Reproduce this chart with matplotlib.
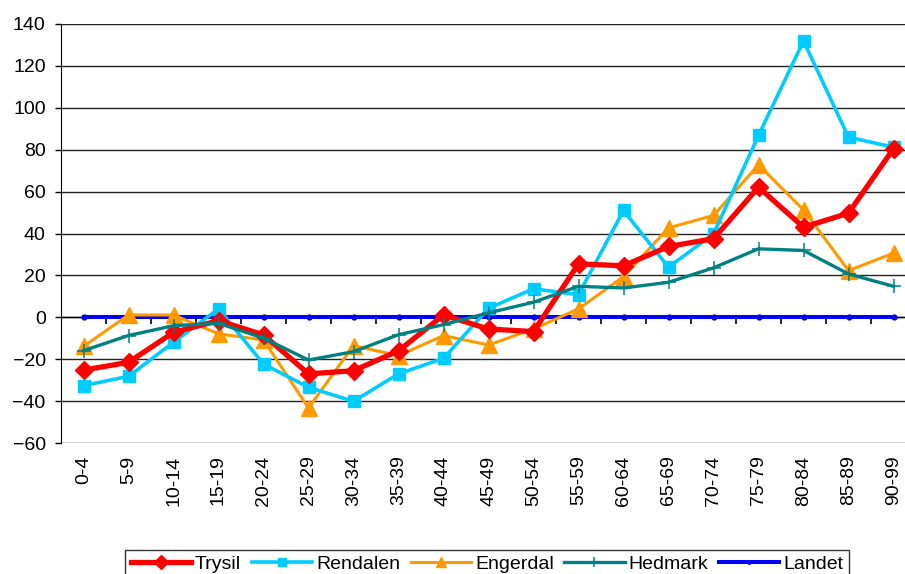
import matplotlib
matplotlib.use('Agg')
import matplotlib.pyplot as plt
from matplotlib.markers import TICKDOWN
import numpy as np

plt.rcParams['font.family'] = ['Liberation Sans', 'DejaVu Sans']

age_groups = ['0-4', '5-9', '10-14', '15-19', '20-24', '25-29', '30-34', '35-39',
              '40-44', '45-49', '50-54', '55-59', '60-64', '65-69', '70-74',
              '75-79', '80-84', '85-89', '90-99']

trysil = [-25.2, -21.5, -7.2, -1.6, -8.4, -27.0, -25.5, -16.0, 1.1, -5.6,
          -6.8, 25.5, 24.6, 33.8, 37.5, 62.1, 43.0, 49.7, 80.5]
rendalen = [-32.6, -28.2, -11.9, 4.0, -22.3, -33.4, -40.1, -27.0, -19.6, 4.3,
            13.6, 10.8, 51.0, 23.9, 39.8, 86.8, 131.9, 86.0, 81.2]
engerdal = [-13.9, 1.1, 1.1, -7.9, -10.8, -43.3, -13.5, -18.3, -8.7, -13.2,
            -5.6, 4.0, 19.4, 42.7, 48.6, 72.8, 51.3, 22.3, 30.6]
hedmark = [-15.9, -8.7, -4.0, -2.9, -9.9, -20.4, -16.4, -8.3, -3.5, 2.1,
           7.2, 14.8, 14.0, 16.7, 23.6, 32.7, 31.9, 20.7, 14.8]
landet = [0] * 19

x = np.arange(len(age_groups))

fig = plt.figure(figsize=(9.05, 5.74), dpi=100)
ax = fig.add_axes([61 / 905, 1 - 443 / 574, (916 - 61) / 905, (443 - 24) / 574])

ax.set_xlim(-0.5, 18.5)
ax.set_ylim(-60, 140)
ax.set_yticks(np.arange(-60, 141, 20))
ax.grid(axis='y', color='#222222', lw=1)
ax.set_axisbelow(True)

for s in ['top', 'right', 'bottom']:
    ax.spines[s].set_visible(False)
ax.spines['left'].set_color('black')

ax.set_xticks(x)
ax.set_xticklabels(age_groups, rotation=90, fontsize=14)
ax.tick_params(axis='x', length=0, pad=9)
ax.tick_params(axis='y', direction='out', length=4, width=1, pad=7, labelsize=14)

# category axis crosses at zero, tick marks between groups (Excel style)
ax.axhline(0, color='black', lw=1, zorder=1)
ax.plot(x[:-1] + 0.5, np.zeros(len(x) - 1), ls='none', marker=TICKDOWN,
        ms=5, mew=1.2, color='black', zorder=1)

ax.plot(x, trysil, color='#FF0000', lw=3.8, marker='D', ms=9.5, label='Trysil', zorder=5)
ax.plot(x, rendalen, color='#00CCFF', lw=2.6, marker='s', ms=9, label='Rendalen', zorder=4)
ax.plot(x, engerdal, color='#FF9900', lw=2.2, marker='^', ms=11, label='Engerdal', zorder=3)
ax.plot(x, hedmark, color='#008080', lw=2.4, marker='+', ms=10, mew=1.1, label='Hedmark', zorder=6)
ax.plot(x, landet, color='#0000FF', lw=2.9, marker='o', ms=3.5, label='Landet', zorder=2)

handles = ax.get_lines()[-5:]
leg = fig.legend(handles=handles, loc='upper center', bbox_to_anchor=(487 / 905, 1 - 540 / 574),
                 ncol=5, fontsize=14, frameon=True, fancybox=False,
                 edgecolor='black', handlelength=3.1, handletextpad=0.2,
                 columnspacing=0.55, borderpad=0.3, markerscale=0.7)
leg.get_frame().set_linewidth(1)

fig.savefig('out.png', dpi=100)
